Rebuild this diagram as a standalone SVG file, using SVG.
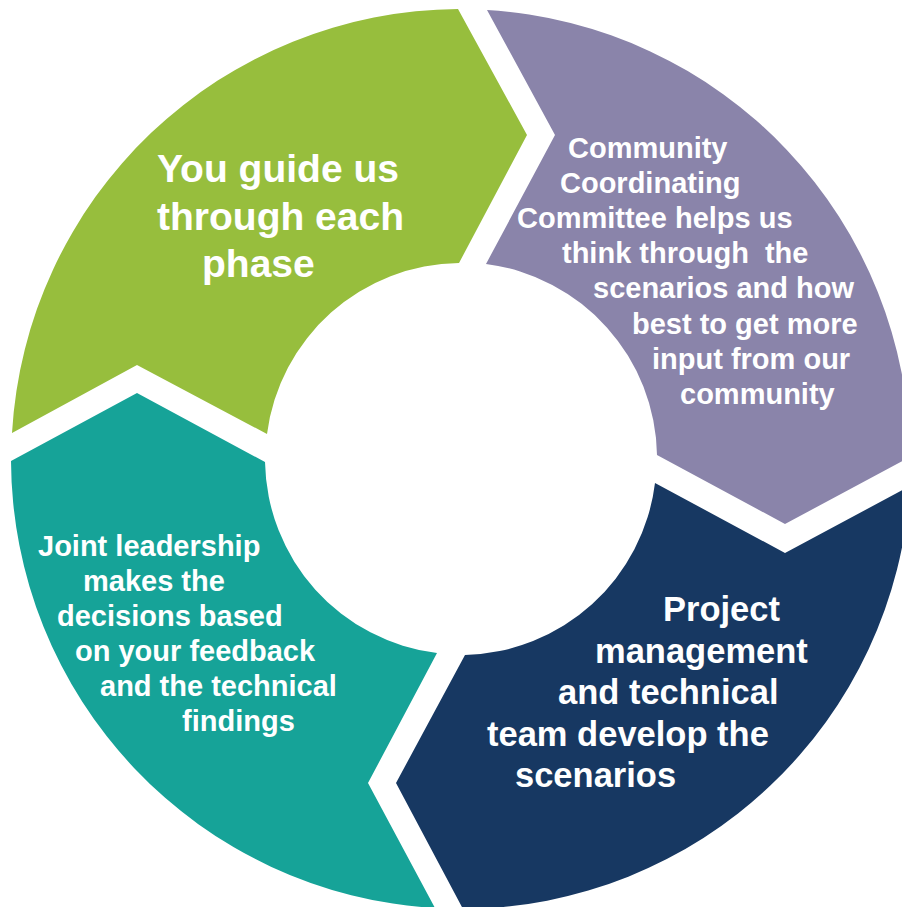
<svg xmlns="http://www.w3.org/2000/svg" width="902" height="907" viewBox="0 0 902 907">
<style>
  .lbl { font-family: "Liberation Sans", Arial, sans-serif; font-weight: bold; fill: #FFFFFF; }
  .g { font-size: 39px; }
  .s { font-size: 29px; }
  .n { font-size: 34.5px; }
</style>
<rect width="902" height="907" fill="#FFFFFF"/>
<g id="node-guide">
  <path d="M 12,433 A 450 450 0 0 1 458,9 L 527,135 L 459,263 A 196 196 0 0 0 267,434 L 137,365 Z" fill="#97BE3D"/>
  <text class="lbl g" x="157" y="182">You guide us</text>
  <text class="lbl g" x="157" y="229.5">through each</text>
  <text class="lbl g" x="202" y="277">phase</text>
</g>
<g id="node-committee">
  <path d="M 487,10 A 450 450 0 0 1 910,457 L 785,524 L 657,455 A 196 196 0 0 0 486,264 L 555,135 Z" fill="#8A84AA"/>
  <text class="lbl s" x="568" y="157.5">Community</text>
  <text class="lbl s" x="560" y="192.7">Coordinating</text>
  <text class="lbl s" x="517" y="227.9">Committee helps us</text>
  <text class="lbl s" x="562" y="263.1" xml:space="preserve">think through  the</text>
  <text class="lbl s" x="593" y="298.3">scenarios and how</text>
  <text class="lbl s" x="632" y="333.5">best to get more</text>
  <text class="lbl s" x="652" y="368.7">input from our</text>
  <text class="lbl s" x="680" y="403.9">community</text>
</g>
<g id="node-project">
  <path d="M 910,486 A 450 450 0 0 1 463,909 L 396,783 L 465,655 A 196 196 0 0 0 655,483 L 785,553 Z" fill="#173862"/>
  <text class="lbl n" x="663" y="621">Project</text>
  <text class="lbl n" x="595" y="662.5">management</text>
  <text class="lbl n" x="558" y="704">and technical</text>
  <text class="lbl n" x="487" y="745.5">team develop the</text>
  <text class="lbl n" x="515" y="787">scenarios</text>
</g>
<g id="node-leadership">
  <path d="M 435,908 A 450 450 0 0 1 11,461 L 137,393 L 265,462 A 196 196 0 0 0 437,653 L 368,783 Z" fill="#16A398"/>
  <text class="lbl s" x="38" y="555.5">Joint leadership</text>
  <text class="lbl s" x="83" y="590.6">makes the</text>
  <text class="lbl s" x="57" y="625.7">decisions based</text>
  <text class="lbl s" x="75" y="660.8">on your feedback</text>
  <text class="lbl s" x="100" y="695.9">and the technical</text>
  <text class="lbl s" x="182" y="731">findings</text>
</g>
<g id="connectors"></g>
</svg>
